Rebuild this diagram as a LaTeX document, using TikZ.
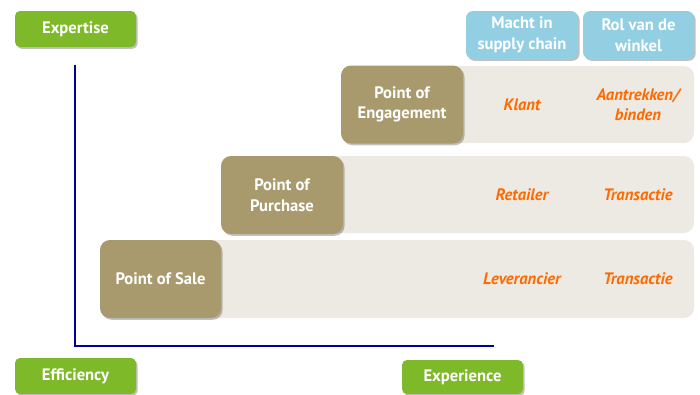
\documentclass[tikz,border=0pt]{standalone}
\usepackage{fontspec}
\setmainfont{PT Sans}
\usetikzlibrary{shadows}
\definecolor{leaf}{HTML}{7DB928}
\definecolor{khaki}{HTML}{A99A6E}
\definecolor{sand}{HTML}{EDEAE3}
\definecolor{sky}{HTML}{92CFE2}
\definecolor{flame}{HTML}{FF6A00}
\definecolor{axisblue}{HTML}{0000A0}
\begin{document}
\begin{tikzpicture}[x=1pt,y=-1pt,
  every node/.style={inner sep=0pt, font=\fontsize{16.6}{20.5}\selectfont\bfseries, align=center},
  softshadow/.style={drop shadow={shadow xshift=1.6pt, shadow yshift=-1.8pt, opacity=0.35, fill=black!70}},
  labelbox/.style={fill=leaf, text=white, rounded corners=5pt, minimum width=121pt, minimum height=36pt, softshadow},
  headbox/.style={fill=sky, text=white, rounded corners=7pt, minimum height=48pt, softshadow},
  rowband/.style={fill=sand, rounded corners=10pt},
  levelbox/.style={fill=khaki, text=white, rounded corners=10pt, minimum height=78pt, softshadow},
  entry/.style={text=flame, font=\fontsize{16.6}{20.5}\selectfont\bfseries\itshape}]
\useasboundingbox (0,0) rectangle (700,394);

% row bands
\fill[rowband] (341,66) rectangle (694,143);
\fill[rowband] (221,156) rectangle (694,233);
\fill[rowband] (100,240) rectangle (694,318);

% axes
\coordinate (top) at (75,65);
\coordinate (origin) at (75,346);
\coordinate (right) at (494,346);
\draw[axisblue, line width=1.8pt] (top) -- (origin) -- (right);

% axis labels
\node[labelbox] (expertise) at (75.5,29) {Expertise};
\node[labelbox] (efficiency) at (75.5,376) {Efficiency};
\node[labelbox, minimum height=34pt] (experience) at (462.5,377) {Experience};

% column headers
\node[headbox, minimum width=112pt] (macht) at (522,35) {Macht in\\supply chain};
\node[headbox, minimum width=111pt] (rol) at (638.5,35) {Rol van de\\winkel};

% levels
\node[levelbox, minimum width=122pt] (poe) at (402,104.5) {Point of\\Engagement};
\node[levelbox, minimum width=122pt] (pop) at (282,195) {Point of\\Purchase};
\node[levelbox, minimum width=121pt] (pos) at (160.5,279) {Point of Sale};

% entries
\node[entry] (klant) at (522,104.5) {Klant};
\node[entry] (binden) at (638,104.5) {Aantrekken/\\binden};
\node[entry] (retailer) at (522,195) {Retailer};
\node[entry] (trans1) at (638,195) {Transactie};
\node[entry] (leverancier) at (522,279) {Leverancier};
\node[entry] (trans2) at (638,279) {Transactie};
\end{tikzpicture}
\end{document}
